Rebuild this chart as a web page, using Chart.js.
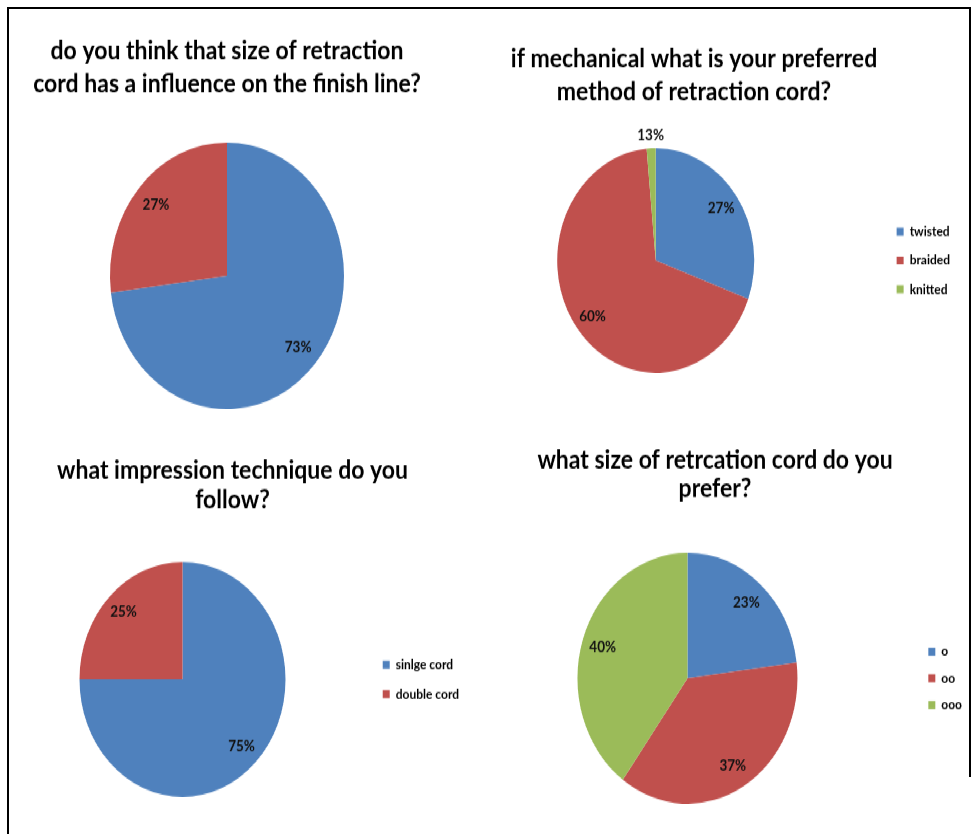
<!DOCTYPE html>
<html>
<head>
<meta charset="utf-8">
<script src="https://cdn.jsdelivr.net/npm/chart.js@4.4.0/dist/chart.umd.min.js"></script>
<style>
  html, body { margin: 0; padding: 0; background: #fff; }
  body { width: 976px; height: 834px; position: relative; overflow: hidden; }
  /* the source picture was stretched vertically, so draw at 1/1.14 height and stretch */
  #stage { position: absolute; left: 0; top: 0; width: 976px; height: 732px; transform: scaleY(1.14); transform-origin: 0 0; }
  #stage canvas { position: absolute; }
  .rule { position: absolute; background: #000; }
</style>
</head>
<body>
<div id="stage">
  <canvas id="q1"></canvas>
  <canvas id="q2"></canvas>
  <canvas id="q3"></canvas>
  <canvas id="q4"></canvas>
</div>
<div class="rule" style="left:7px;top:7px;width:964px;height:2px"></div>
<div class="rule" style="left:7px;top:7px;width:2px;height:827px"></div>
<div class="rule" style="left:969px;top:7px;width:2px;height:770px"></div>
<script>
const blue = '#4F81BD', red = '#C0504D', green = '#9BBB59';

// 1: do you think that size of retraction cord has a influence on the finish line?
const q1Labels = ['yes', 'no'];
const q1Values = [73, 27];
const q1Text = ['73%', '27%'];

// 2: preferred method of retraction cord
const q2Labels = ['twisted', 'braided', 'knitted'];
const q2Values = [27, 60, 1.3];
const q2Text = ['27%', '60%', '13%'];

// 3: impression technique
const q3Labels = ['sinlge cord', 'double cord'];
const q3Values = [75, 25];
const q3Text = ['75%', '25%'];

// 4: size of retraction cord
const q4Labels = ['o', 'oo', 'ooo'];
const q4Values = [23, 37, 40];
const q4Text = ['23%', '37%', '40%'];

// percentage labels inside the slices (tiny slices get theirs just outside)
const pctLabels = {
  id: 'pctLabels',
  afterDatasetsDraw(chart, args, opts) {
    const ctx = chart.ctx;
    const meta = chart.getDatasetMeta(0);
    const total = chart.data.datasets[0].data.reduce((a, b) => a + b, 0);
    ctx.save();
    ctx.font = 'bold 13.5px Lato';
    ctx.fillStyle = '#111';
    ctx.textAlign = 'center';
    ctx.textBaseline = 'middle';
    meta.data.forEach((arc, i) => {
      const p = arc.getProps(['x', 'y', 'startAngle', 'endAngle', 'outerRadius'], true);
      const mid = (p.startAngle + p.endAngle) / 2;
      const small = chart.data.datasets[0].data[i] / total < 0.05;
      const r = p.outerRadius * (small ? 1.12 : 0.81);
      ctx.fillText(opts.text[i], p.x + Math.cos(mid) * r, p.y + Math.sin(mid) * r);
    });
    ctx.restore();
  }
};

function makePie(id, box, labels, values, text, title, legend) {
  const canvas = document.getElementById(id);
  canvas.width = box.w;
  canvas.height = box.h;
  canvas.style.left = box.x + 'px';
  canvas.style.top = box.y + 'px';
  return new Chart(canvas, {
    type: 'pie',
    data: {
      labels: labels,
      datasets: [{
        data: values,
        backgroundColor: [blue, red, green].slice(0, values.length),
        borderWidth: 0
      }]
    },
    plugins: [pctLabels],
    options: {
      responsive: false,
      animation: false,
      events: [],
      layout: { padding: 0 },
      plugins: {
        title: {
          display: true,
          text: title.lines,
          color: '#000',
          font: { family: 'Lato', weight: 'bold', size: 23, lineHeight: title.lh },
          padding: { top: title.top, bottom: title.bottom }
        },
        legend: legend ? {
          display: true,
          position: 'right',
          fullSize: false,
          labels: {
            color: '#000',
            font: { family: 'Lato', weight: 'bold', size: 12 },
            boxWidth: 7,
            boxHeight: 7,
            padding: legend.padding
          }
        } : { display: false },
        tooltip: { enabled: false },
        pctLabels: { text: text }
      }
    }
  });
}

makePie('q1', { x: 17, y: 0, w: 420, h: 359 }, q1Labels, q1Values, q1Text,
  { lines: ['do you think that size of retraction', 'cord has a influence on the finish line?'], lh: 1.274, top: 30, bottom: 36.4 },
  null);

makePie('q2', { x: 428, y: 0, w: 532, h: 327 }, q2Labels, q2Values, q2Text,
  { lines: ['if mechanical what is your preferred', 'method of retraction cord?'], lh: 1.239, top: 37.5, bottom: 35.5 },
  { padding: 13.2 });

makePie('q3', { x: -4, y: 370, w: 473, h: 329 }, q3Labels, q3Values, q3Text,
  { lines: ['what impression technique do you', 'follow?'], lh: 1.109, top: 30.25, bottom: 41.75 },
  { padding: 13.7 });

makePie('q4', { x: 458, y: 360, w: 514, h: 345 }, q4Labels, q4Values, q4Text,
  { lines: ['what size of retrcation cord do you', 'prefer?'], lh: 1.087, top: 31, bottom: 44 },
  { padding: 11.4 });
</script>
</body>
</html>
